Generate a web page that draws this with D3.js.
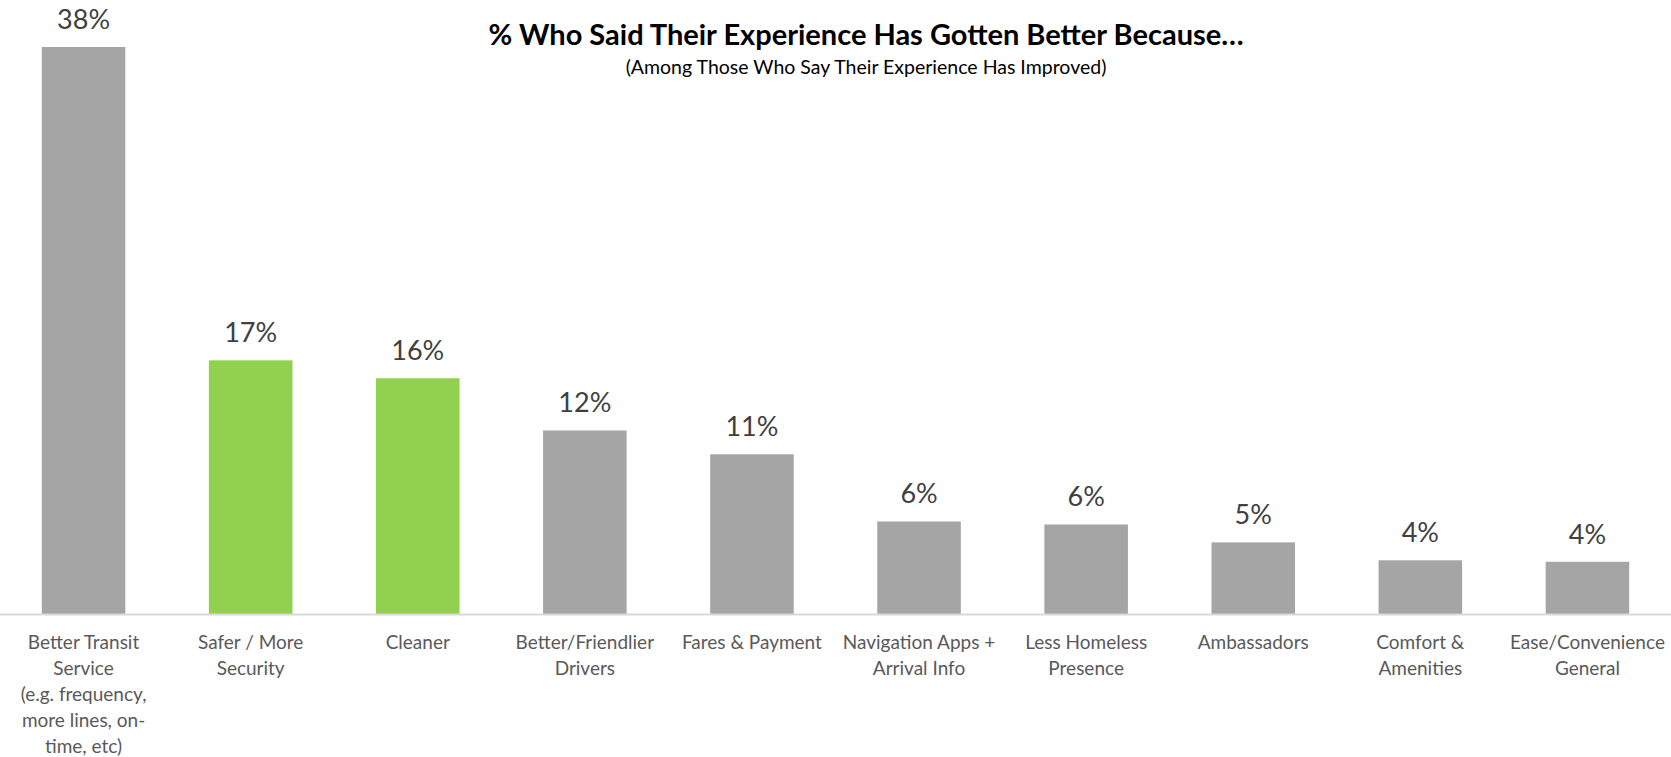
<!DOCTYPE html>
<html><head><meta charset="utf-8">
<script src="https://cdn.jsdelivr.net/npm/d3@7"></script>
<style>html,body{margin:0;padding:0;background:#fff;}svg{display:block;}</style>
</head><body>
<svg id="chart" width="1671" height="757"></svg>
<script>
const categories = ["Better Transit Service", "Safer / More Security", "Cleaner", "Better/Friendlier Drivers", "Fares & Payment", "Navigation Apps + Arrival Info", "Less Homeless Presence", "Ambassadors", "Comfort & Amenities", "Ease/Convenience General"];
const tickLines = [
  ["Better Transit", "Service", "(e.g. frequency,", "more lines, on-", "time, etc)"],
  ["Safer / More", "Security"],
  ["Cleaner"],
  ["Better/Friendlier", "Drivers"],
  ["Fares & Payment"],
  ["Navigation Apps +", "Arrival Info"],
  ["Less Homeless", "Presence"],
  ["Ambassadors"],
  ["Comfort &", "Amenities"],
  ["Ease/Convenience", "General"]
];
const values = [38, 17, 15.8, 12.3, 10.7, 6.2, 6.0, 4.8, 3.6, 3.5];
const highlighted = ["Safer / More Security", "Cleaner"];
const titleText = "% Who Said Their Experience Has Gotten Better Because…";
const subtitleText = "(Among Those Who Say Their Experience Has Improved)";

const W = 1671, H = 757;
const svg = d3.select("#chart");
const font = "Lato, 'Open Sans', sans-serif";
const baseY = 614;

const x = d3.scaleBand().domain(categories).range([0, 1671]).paddingInner(0.5).paddingOuter(0.25);
const y = d3.scaleLinear().domain([0, 38]).range([baseY, 47]);

svg.selectAll("rect.bar").data(categories).join("rect")
  .attr("class", "bar")
  .attr("x", d => x(d))
  .attr("width", x.bandwidth())
  .attr("y", (d, i) => y(values[i]))
  .attr("height", (d, i) => baseY - y(values[i]))
  .attr("fill", d => highlighted.includes(d) ? "#92D050" : "#A5A5A5");

// axis line
svg.append("line").attr("x1", 0).attr("x2", W).attr("y1", baseY + 0.5).attr("y2", baseY + 0.5)
  .attr("stroke", "#D9D9D9").attr("stroke-width", 2);

// value labels
svg.selectAll("text.val").data(categories).join("text")
  .attr("class", "val")
  .attr("x", d => x(d) + x.bandwidth() / 2)
  .attr("y", (d, i) => y(values[i]) - 18)
  .attr("text-anchor", "middle")
  .attr("font-family", font).attr("font-size", 27)
  .attr("fill", "#404040")
  .text((d, i) => Math.round(values[i]) + "%");

// category labels
const cat = svg.selectAll("text.cat").data(categories).join("text")
  .attr("class", "cat")
  .attr("y", 649)
  .attr("text-anchor", "middle")
  .attr("font-family", font).attr("font-size", 19)
  .attr("fill", "#595959");
cat.each(function(d, i) {
  const t = d3.select(this);
  t.selectAll("tspan").data(tickLines[i]).join("tspan")
    .attr("x", x(d) + x.bandwidth() / 2)
    .attr("dy", (s, j) => j === 0 ? 0 : 26)
    .text(s => s);
  // keep labels inside the chart area
  const bb = this.getBBox();
  const over = bb.x + bb.width - (W - 3);
  if (over > 0) t.selectAll("tspan").attr("x", x(d) + x.bandwidth() / 2 - over);
});

// title
svg.append("text").attr("x", 866).attr("y", 45).attr("text-anchor", "middle")
  .attr("font-family", font).attr("font-weight", "bold").attr("font-size", 29)
  .attr("fill", "#000").text(titleText);
svg.append("text").attr("x", 866).attr("y", 74).attr("text-anchor", "middle")
  .attr("font-family", font).attr("font-size", 19.5)
  .attr("fill", "#000").text(subtitleText);
</script>
</body></html>
